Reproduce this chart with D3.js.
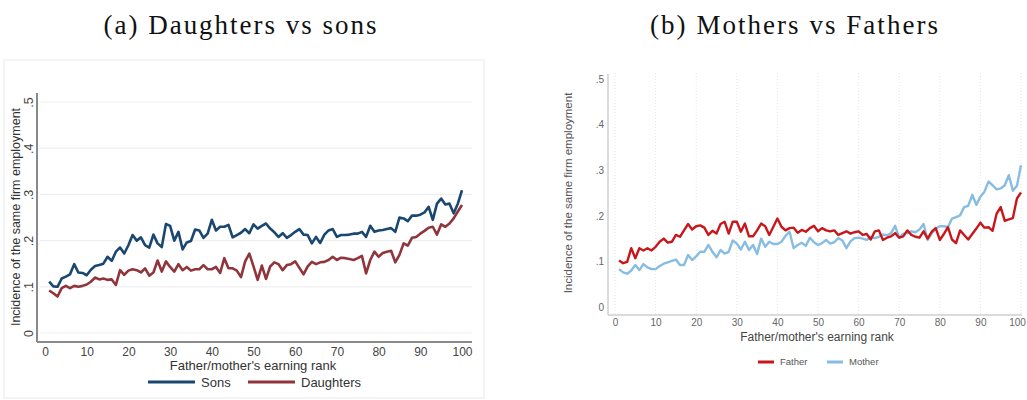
<!DOCTYPE html>
<html>
<head>
<meta charset="utf-8">
<script src="https://cdn.jsdelivr.net/npm/d3@7/dist/d3.min.js"></script>
<style>
  html, body { margin: 0; padding: 0; background: #fff; }
  svg { display: block; }
</style>
</head>
<body>
<svg id="chart" width="1027" height="400"></svg>
<script>
// Parent earning rank (percentile 1..100)
const ranks = d3.range(1, 101);
const xTicks = [0, 10, 20, 30, 40, 50, 60, 70, 80, 90, 100];
const yTicks = [0, 0.1, 0.2, 0.3, 0.4, 0.5];
const yTickLabels = ["0", ".1", ".2", ".3", ".4", ".5"];

// Panel (a): incidence of same-firm employment, sons and daughters
const sons = [
  .111, .101, .100, .118, .122, .127, .149, .131, .130, .125,
  .137, .145, .147, .150, .165, .156, .176, .185, .172, .190,
  .212, .200, .207, .190, .185, .213, .194, .186, .236, .232,
  .200, .219, .181, .196, .199, .224, .222, .206, .215, .245,
  .222, .230, .230, .234, .207, .212, .217, .225, .216, .235,
  .226, .232, .237, .226, .218, .208, .216, .206, .212, .219,
  .225, .213, .212, .194, .208, .195, .213, .222, .225, .208,
  .212, .212, .213, .215, .215, .219, .208, .232, .219, .222,
  .223, .225, .227, .219, .250, .248, .242, .254, .254, .256,
  .261, .273, .245, .280, .291, .278, .280, .259, .280, .309
];
const daughters = [
  .092, .086, .079, .097, .102, .097, .102, .100, .102, .105,
  .111, .120, .116, .118, .115, .116, .104, .136, .126, .135,
  .138, .136, .131, .140, .124, .131, .157, .133, .155, .143,
  .133, .149, .136, .143, .135, .138, .138, .147, .138, .138,
  .143, .130, .162, .140, .140, .135, .121, .155, .172, .144,
  .115, .146, .117, .144, .153, .149, .136, .147, .149, .155,
  .141, .127, .144, .154, .149, .153, .154, .158, .165, .158,
  .163, .162, .160, .158, .162, .167, .129, .158, .176, .165,
  .173, .176, .178, .153, .169, .194, .189, .206, .208, .215,
  .221, .228, .230, .213, .235, .230, .237, .248, .263, .277
];

// Panel (b): incidence of same-firm employment, fathers and mothers
const fathers = [
  .102, .096, .099, .129, .107, .129, .124, .129, .124, .132,
  .143, .150, .141, .143, .158, .154, .168, .182, .170, .177,
  .179, .174, .158, .167, .161, .182, .187, .161, .187, .187,
  .165, .183, .155, .155, .168, .183, .177, .158, .176, .194,
  .176, .168, .173, .174, .163, .169, .165, .173, .178, .166,
  .173, .168, .166, .168, .158, .162, .166, .161, .164, .166,
  .158, .160, .148, .166, .168, .147, .152, .155, .162, .152,
  .155, .168, .158, .154, .152, .166, .150, .165, .173, .147,
  .160, .175, .148, .140, .168, .158, .148, .160, .172, .185,
  .174, .175, .167, .205, .219, .189, .192, .195, .238, .251
];
const mothers = [
  .083, .076, .073, .080, .092, .081, .094, .087, .083, .083,
  .090, .095, .098, .101, .104, .092, .092, .114, .103, .111,
  .121, .121, .136, .121, .109, .125, .117, .121, .146, .139,
  .126, .143, .125, .136, .116, .150, .132, .143, .138, .138,
  .143, .156, .165, .129, .136, .141, .134, .152, .142, .136,
  .140, .147, .139, .142, .151, .146, .129, .144, .151, .152,
  .150, .147, .154, .151, .154, .159, .157, .162, .178, .152,
  .161, .162, .166, .164, .170, .182, .147, .161, .172, .177,
  .177, .175, .194, .197, .201, .219, .222, .246, .224, .242,
  .253, .275, .267, .258, .260, .267, .289, .255, .266, .311
];

const titleA = "(a) Daughters vs sons";
const titleB = "(b) Mothers vs Fathers";
const xTitle = "Father/mother's earning rank";
const yTitle = "Incidence of the same firm employment";

const svg = d3.select("#chart");
const sans = "'Liberation Sans', Arial, Helvetica, sans-serif";
const serif = "'Liberation Serif', 'Times New Roman', serif";

// Panel titles
svg.append("text").attr("x", 240).attr("y", 34)
  .attr("text-anchor", "middle").attr("font-family", serif).attr("font-size", 27)
  .attr("textLength", 273).attr("lengthAdjust", "spacing")
  .attr("fill", "#111").text(titleA);
svg.append("text").attr("x", 794).attr("y", 34)
  .attr("text-anchor", "middle").attr("font-family", serif).attr("font-size", 27)
  .attr("textLength", 288).attr("lengthAdjust", "spacing")
  .attr("fill", "#111").text(titleB);

// ---------------- Panel (a) ----------------
{
  const g = svg.append("g");
  const x = d3.scaleLinear().domain([0, 100]).range([45, 462]);
  const y = d3.scaleLinear().domain([0, 0.5]).range([333, 102]);

  // faint outer frame of the graph region
  g.append("rect").attr("x", 4).attr("y", 60).attr("width", 480).attr("height", 338)
    .attr("fill", "none").attr("stroke", "#f1f1f1").attr("stroke-width", 1.5);

  // horizontal grid lines
  g.append("g").selectAll("line").data(yTicks).join("line")
    .attr("x1", 40).attr("x2", 472)
    .attr("y1", d => y(d)).attr("y2", d => y(d))
    .attr("stroke", "#efefef").attr("stroke-width", 1.2);

  // y axis (labels rotated, as in Stata default)
  const yAxis = g.append("g").attr("transform", "translate(37,0)")
    .call(d3.axisLeft(y).tickValues(yTicks).tickSize(0).tickFormat((d, i) => yTickLabels[i]));
  yAxis.select(".domain").attr("d", `M0,${93}V${342}`).attr("stroke", "#8a8a8a").attr("stroke-width", 2);
  yAxis.selectAll(".tick text")
    .attr("font-family", sans).attr("font-size", 12.5).attr("fill", "#444")
    .attr("x", 0).attr("dy", 0)
    .attr("text-anchor", "middle")
    .attr("transform", "translate(-4,0) rotate(-90)");

  // x axis
  const xAxis = g.append("g").attr("transform", "translate(0,342)")
    .call(d3.axisBottom(x).tickValues(xTicks).tickSize(0).tickFormat(d3.format("d")));
  xAxis.select(".domain").attr("d", "M37,0H472").attr("stroke", "#8a8a8a").attr("stroke-width", 2);
  xAxis.selectAll(".tick text")
    .attr("font-family", sans).attr("font-size", 12).attr("fill", "#444")
    .attr("y", 5).attr("dy", "0.71em");

  // axis titles
  g.append("text").attr("x", 253).attr("y", 370)
    .attr("text-anchor", "middle").attr("font-family", sans).attr("font-size", 13)
    .attr("fill", "#333").text(xTitle);
  g.append("text").attr("transform", "translate(20,217) rotate(-90)")
    .attr("text-anchor", "middle").attr("font-family", sans).attr("font-size", 12.5)
    .attr("fill", "#333").text(yTitle);

  const line = data => d3.line().x((d, i) => x(ranks[i])).y(d => y(d))(data);
  g.append("path").attr("d", line(daughters)).attr("fill", "none")
    .attr("stroke", "#90353b").attr("stroke-width", 2.6).attr("stroke-linejoin", "round");
  g.append("path").attr("d", line(sons)).attr("fill", "none")
    .attr("stroke", "#1a476f").attr("stroke-width", 2.6).attr("stroke-linejoin", "round");

  // legend
  const legend = [
    { name: "Sons", color: "#1a476f", x0: 148 },
    { name: "Daughters", color: "#90353b", x0: 248 }
  ];
  const lg = g.append("g").selectAll("g").data(legend).join("g")
    .attr("transform", d => `translate(${d.x0},382)`);
  lg.append("line").attr("x1", 0).attr("x2", 47).attr("y1", 0).attr("y2", 0)
    .attr("stroke", d => d.color).attr("stroke-width", 3);
  lg.append("text").attr("x", 53).attr("y", 0).attr("dy", "0.35em")
    .attr("font-family", sans).attr("font-size", 13).attr("fill", "#333")
    .text(d => d.name);
}

// ---------------- Panel (b) ----------------
{
  const g = svg.append("g");
  const x = d3.scaleLinear().domain([0, 100]).range([615, 1021]);
  const y = d3.scaleLinear().domain([0, 0.5]).range([307, 79]);

  // dotted vertical grid lines
  g.append("g").selectAll("line").data(xTicks).join("line")
    .attr("x1", d => x(d)).attr("x2", d => x(d))
    .attr("y1", 73).attr("y2", 314)
    .attr("stroke", "#e6e6e6").attr("stroke-width", 1)
    .attr("stroke-dasharray", "1,2");

  const yAxis = g.append("g").attr("transform", "translate(608,0)")
    .call(d3.axisLeft(y).tickValues(yTicks).tickSize(0).tickFormat((d, i) => yTickLabels[i]));
  yAxis.select(".domain").attr("d", "M0,74V315").attr("stroke", "#cfcfcf").attr("stroke-width", 1.5);
  yAxis.selectAll(".tick text")
    .attr("font-family", sans).attr("font-size", 10).attr("fill", "#666")
    .attr("x", -4);

  const xAxis = g.append("g").attr("transform", "translate(0,315)")
    .call(d3.axisBottom(x).tickValues(xTicks).tickSize(0).tickFormat(d3.format("d")));
  xAxis.select(".domain").attr("d", "M608,0H1022").attr("stroke", "#cfcfcf").attr("stroke-width", 1.5);
  xAxis.selectAll(".tick text")
    .attr("font-family", sans).attr("font-size", 10).attr("fill", "#666")
    .attr("y", 4).attr("dy", "0.71em")
    .attr("dx", d => d === 100 ? -4 : 0);

  g.append("text").attr("x", 817).attr("y", 341)
    .attr("text-anchor", "middle").attr("font-family", sans).attr("font-size", 12)
    .attr("fill", "#444").text(xTitle);
  g.append("text").attr("transform", "translate(572,193) rotate(-90)")
    .attr("text-anchor", "middle").attr("font-family", sans).attr("font-size", 11.5)
    .attr("fill", "#555").text(yTitle);

  const line = data => d3.line().x((d, i) => x(ranks[i])).y(d => y(d))(data);
  g.append("path").attr("d", line(mothers)).attr("fill", "none")
    .attr("stroke", "#87bde3").attr("stroke-width", 2.4).attr("stroke-linejoin", "round");
  g.append("path").attr("d", line(fathers)).attr("fill", "none")
    .attr("stroke", "#c8171b").attr("stroke-width", 2.4).attr("stroke-linejoin", "round");

  const legend = [
    { name: "Father", color: "#c8171b", x0: 758 },
    { name: "Mother", color: "#87bde3", x0: 827 }
  ];
  const lg = g.append("g").selectAll("g").data(legend).join("g")
    .attr("transform", d => `translate(${d.x0},362)`);
  lg.append("line").attr("x1", 0).attr("x2", 16).attr("y1", 0).attr("y2", 0)
    .attr("stroke", d => d.color).attr("stroke-width", 3);
  lg.append("text").attr("x", 22).attr("y", 0).attr("dy", "0.35em")
    .attr("font-family", sans).attr("font-size", 9.5).attr("fill", "#555")
    .text(d => d.name);
}
</script>
</body>
</html>
